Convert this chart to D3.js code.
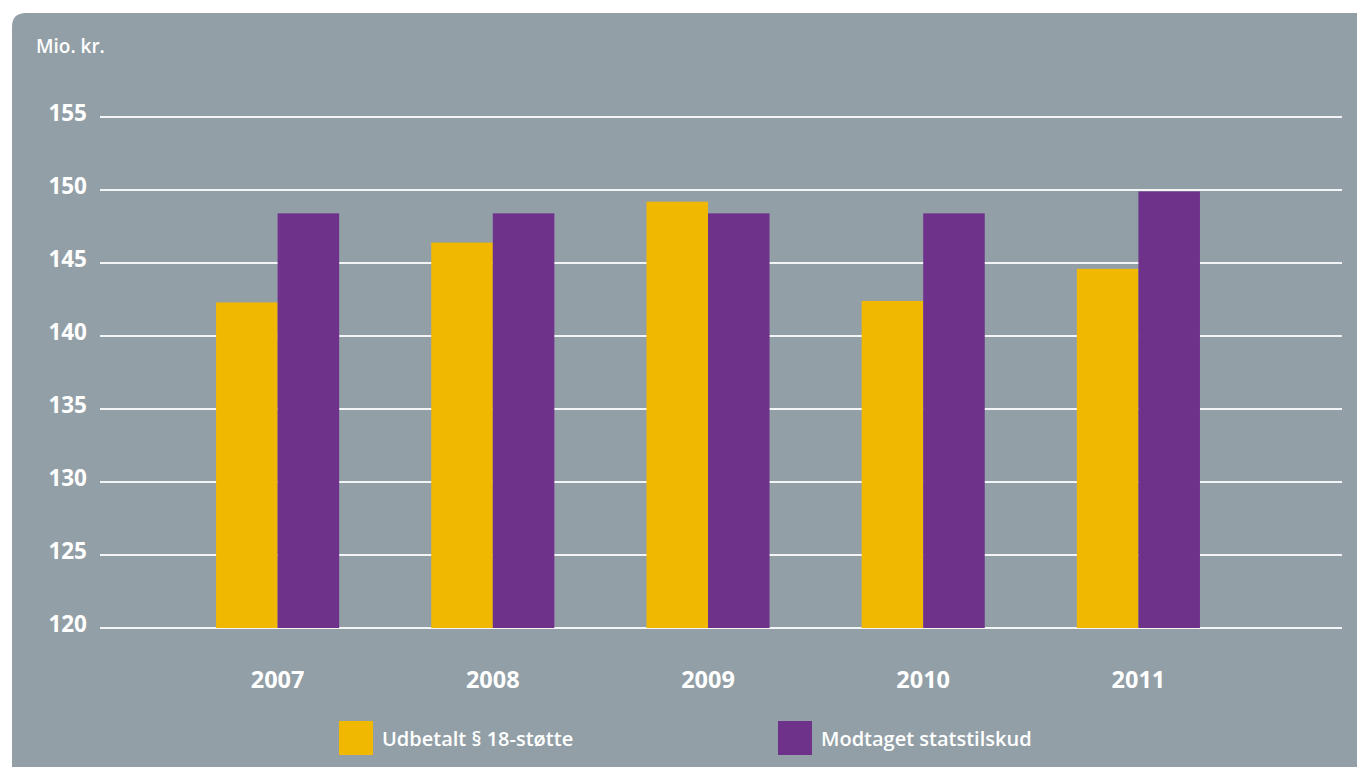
<!DOCTYPE html>
<html><head><meta charset="utf-8">
<script src="https://cdn.jsdelivr.net/npm/d3@7"></script>
<style>html,body{margin:0;padding:0;background:#fff;overflow:hidden}svg{display:block}</style>
</head><body>
<svg id="c" width="1357" height="767"></svg>
<script>
const years = ["2007","2008","2009","2010","2011"];
const udbetalt = [142.3, 146.4, 149.2, 142.4, 144.6];
const modtaget = [148.4, 148.4, 148.4, 148.4, 149.9];
const seriesNames = ["Udbetalt § 18-støtte", "Modtaget statstilskud"];
const seriesColors = ["#f0b800", "#6e328b"];
const yTicks = [120,125,130,135,140,145,150,155];
const unitLabel = "Mio. kr.";

const font = "'Open Sans', 'Noto Sans', sans-serif";
const svg = d3.select("#c");
const bg = "#939fa7";

// panel with rounded top-left corner
svg.append("path")
  .attr("d", "M12,1000 L12,27 Q12,13 26,13 L1400,13 L1400,1000 Z")
  .attr("fill", bg);

const y = d3.scaleLinear().domain([120,155]).range([628,117]);
const x0 = d3.scaleBand().domain(years).range([170,1246]).paddingInner(0.428).paddingOuter(0.214);
const x1 = d3.scaleBand().domain([0,1]).range([0, x0.bandwidth()]);

// gridlines
const grid = svg.append("g");
grid.selectAll("line").data(yTicks).join("line")
  .attr("x1",100).attr("x2",1342)
  .attr("y1",d=>y(d)).attr("y2",d=>y(d))
  .attr("stroke","#f3f4f5").attr("stroke-width",2);

// y tick labels
svg.append("g").selectAll("text").data(yTicks).join("text")
  .attr("x",87).attr("y",d=>y(d)+4)
  .attr("text-anchor","end")
  .attr("fill","#fff").attr("font-family",font).attr("font-weight",700).attr("font-size",22.5)
  .text(d=>d);

svg.append("text").attr("x",36).attr("y",53)
  .attr("fill","#fff").attr("font-family",font).attr("font-weight",600).attr("font-size",19)
  .text(unitLabel);

// bars
const data = years.map((yr,i)=>({yr, vals:[udbetalt[i], modtaget[i]]}));
const groups = svg.append("g").selectAll("g").data(data).join("g")
  .attr("transform",d=>`translate(${x0(d.yr)},0)`);
groups.selectAll("rect").data(d=>d.vals.map((v,k)=>({v,k}))).join("rect")
  .attr("x",d=>x1(d.k)).attr("width",x1.bandwidth())
  .attr("y",d=>y(d.v)).attr("height",d=>y(120)-y(d.v))
  .attr("fill",d=>seriesColors[d.k]);

// x labels
svg.append("g").selectAll("text").data(years).join("text")
  .attr("x",d=>x0(d)+x0.bandwidth()/2).attr("y",688)
  .attr("text-anchor","middle")
  .attr("fill","#fff").attr("font-family",font).attr("font-weight",700).attr("font-size",23.5)
  .text(d=>d);

// legend
const legX = [339, 778];
const leg = svg.append("g").selectAll("g").data(seriesNames).join("g")
  .attr("transform",(d,i)=>`translate(${legX[i]},721)`);
leg.append("rect").attr("width",34).attr("height",34).attr("fill",(d,i)=>seriesColors[i]);
leg.append("text").attr("x",43).attr("y",25)
  .attr("fill","#fff").attr("font-family",font).attr("font-weight",600).attr("font-size",20)
  .text(d=>d);
</script>
</body></html>
